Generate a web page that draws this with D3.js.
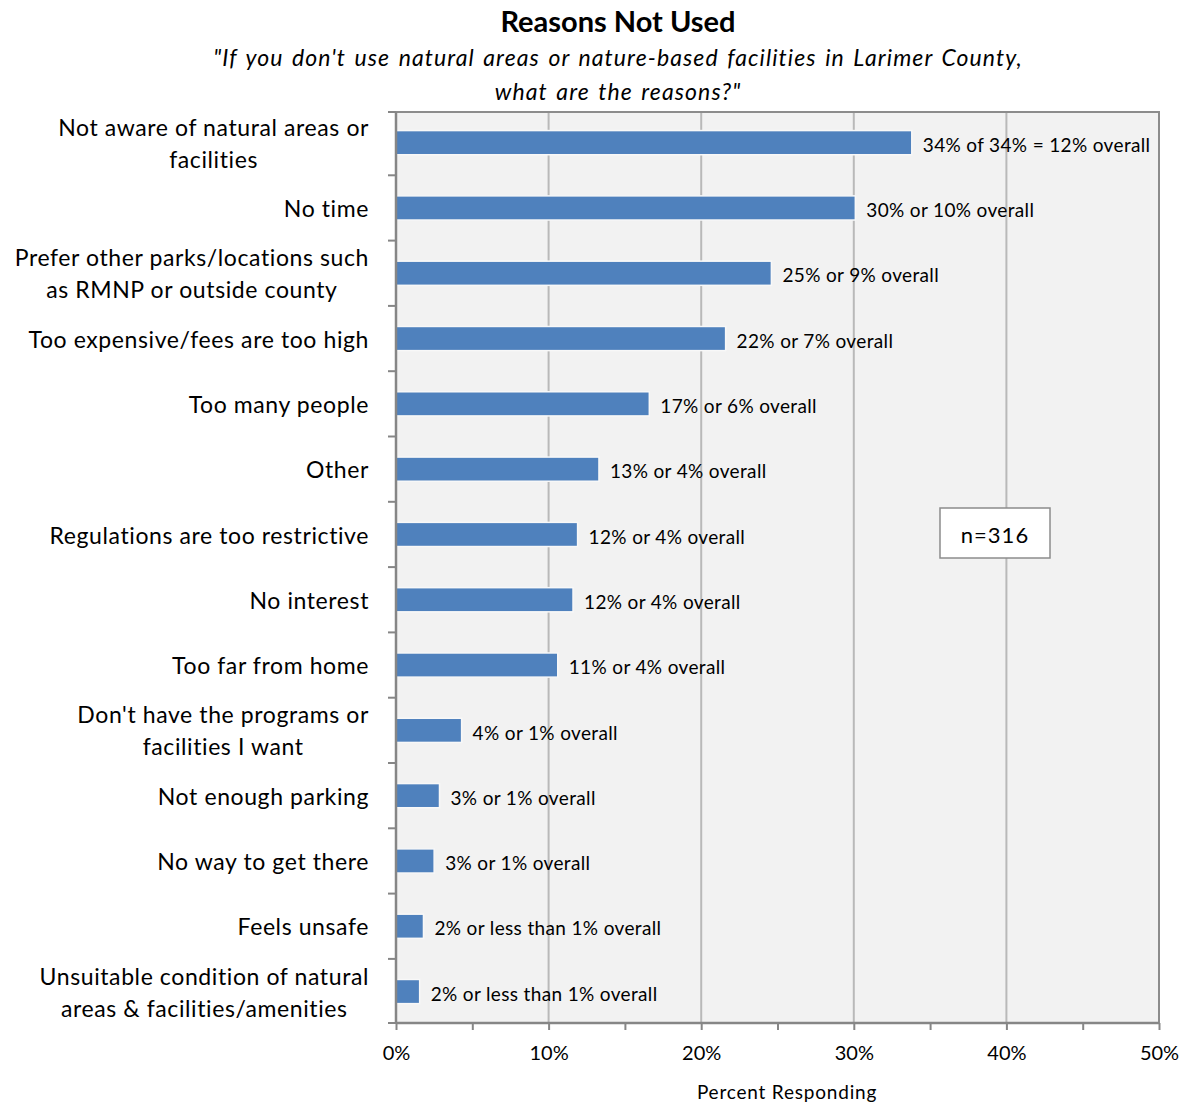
<!DOCTYPE html>
<html>
<head>
<meta charset="utf-8">
<script src="https://cdn.jsdelivr.net/npm/d3@7"></script>
<style>
  html, body { margin: 0; padding: 0; background: #fff; }
  svg { display: block; font-family: Lato, "Open Sans", sans-serif; }
</style>
</head>
<body>
<svg id="chart" width="1188" height="1103"></svg>
<script>
// Reasons for not using natural areas, percent of respondents
const categories = [
  ["Not aware of natural areas or", "facilities"],
  ["No time"],
  ["Prefer other parks/locations such", "as RMNP or outside county"],
  ["Too expensive/fees are too high"],
  ["Too many people"],
  ["Other"],
  ["Regulations are too restrictive"],
  ["No interest"],
  ["Too far from home"],
  ["Don't have the programs or", "facilities I want"],
  ["Not enough parking"],
  ["No way to get there"],
  ["Feels unsafe"],
  ["Unsuitable condition of natural", "areas & facilities/amenities"]
];
const values = [33.8, 30.1, 24.6, 21.6, 16.6, 13.3, 11.9, 11.6, 10.6, 4.3, 2.85, 2.5, 1.8, 1.55];
const overallText = [
  " of 34% = 12% overall", " or 10% overall", " or 9% overall", " or 7% overall",
  " or 6% overall", " or 4% overall", " or 4% overall", " or 4% overall",
  " or 4% overall", " or 1% overall", " or 1% overall", " or 1% overall",
  " or less than 1% overall", " or less than 1% overall"
];
const xTicks = [0, 10, 20, 30, 40, 50];
const sampleSize = "n=316";

const svg = d3.select("#chart");
const plot = { left: 396, right: 1159, top: 112, bottom: 1023 };

const x = d3.scaleLinear().domain([0, 50]).range([plot.left, plot.right]);
const y = d3.scaleBand().domain(d3.range(categories.length))
  .range([plot.top - 2, plot.bottom + 1.2]).paddingInner(0.63).paddingOuter(0.315);
const step = y.step();
const band0 = y(0) - y.paddingOuter() * step;

// Titles
svg.append("text").attr("x", 618).attr("y", 32).attr("text-anchor", "middle")
  .attr("font-size", 29).attr("font-weight", "bold").attr("fill", "#000")
  .text("Reasons Not Used");
svg.append("text").attr("x", 618).attr("y", 66).attr("text-anchor", "middle")
  .attr("font-size", 23).attr("font-style", "italic").attr("fill", "#000")
  .attr("letter-spacing", 1.1).attr("word-spacing", 2)
  .text("\"If you don't use natural areas or nature-based facilities in Larimer County,");
svg.append("text").attr("x", 618).attr("y", 100).attr("text-anchor", "middle")
  .attr("font-size", 23).attr("font-style", "italic").attr("fill", "#000")
  .attr("letter-spacing", 1.1).attr("word-spacing", 2)
  .text("what are the reasons?\"");

// Plot background
svg.append("rect").attr("x", plot.left).attr("y", plot.top)
  .attr("width", plot.right - plot.left).attr("height", plot.bottom - plot.top)
  .attr("fill", "#f2f2f2");

// Vertical gridlines
svg.append("g").selectAll("line").data(xTicks.slice(1, -1)).join("line")
  .attr("x1", d => x(d)).attr("x2", d => x(d))
  .attr("y1", plot.top).attr("y2", plot.bottom)
  .attr("stroke", "#b9b9b9").attr("stroke-width", 2);

// Plot border (top and right)
svg.append("path")
  .attr("d", `M${plot.left},${plot.top}H${plot.right}V${plot.bottom}`)
  .attr("fill", "none").attr("stroke", "#8c8c8c").attr("stroke-width", 2);

// Bars
svg.append("g").selectAll("rect").data(values).join("rect")
  .attr("x", x(0)).attr("y", (d, i) => y(i))
  .attr("width", d => x(d) - x(0)).attr("height", y.bandwidth())
  .attr("fill", "#4f81bd").attr("stroke", "#f8f8f8").attr("stroke-width", 1.5);

// Value labels
svg.append("g").selectAll("text").data(values).join("text")
  .attr("x", d => x(d) + 11).attr("y", (d, i) => y(i) + y.bandwidth() / 2 + 2.5)
  .attr("dy", "0.35em").attr("font-size", 19).attr("letter-spacing", 0.35).attr("fill", "#000")
  .text((d, i) => Math.round(d) + "%" + overallText[i]);

// X axis with minor ticks every 5%
const xAxis = d3.axisBottom(x).tickValues(d3.range(0, 51, 5))
  .tickFormat(d => (d % 10 === 0 ? d + "%" : "")).tickSize(7).tickPadding(16);
const gx = svg.append("g").attr("transform", `translate(0,${plot.bottom})`).call(xAxis);
gx.select(".domain").attr("stroke", "#868686").attr("stroke-width", 2.5)
  .attr("d", `M${plot.left},0H${plot.right}`);
gx.selectAll(".tick line").attr("stroke", "#868686").attr("stroke-width", 2);
gx.selectAll(".tick text").attr("font-size", 20).attr("fill", "#000")
  .attr("font-family", "Lato, 'Open Sans', sans-serif");

// Y axis line and category boundary ticks
const gy = svg.append("g");
gy.append("line").attr("x1", plot.left).attr("x2", plot.left)
  .attr("y1", plot.top).attr("y2", plot.bottom)
  .attr("stroke", "#868686").attr("stroke-width", 2.5);
const boundaries = [plot.top]
  .concat(d3.range(1, categories.length).map(k => band0 + k * step))
  .concat([plot.bottom]);
gy.selectAll("line.tk").data(boundaries).join("line")
  .attr("class", "tk")
  .attr("x1", plot.left - 8).attr("x2", plot.left)
  .attr("y1", d => d).attr("y2", d => d)
  .attr("stroke", "#868686").attr("stroke-width", 2);

// Category labels: block right-aligned, lines centered within block
const labelRight = 369;
const lineGap = 32;
categories.forEach((lines, i) => {
  const cy = y(i) + y.bandwidth() / 2 + 1;
  const g = svg.append("g");
  const texts = lines.map((ln, k) => g.append("text")
    .attr("font-size", 23).attr("letter-spacing", 0.6).attr("fill", "#000")
    .attr("y", cy + (k - (lines.length - 1) / 2) * lineGap)
    .attr("dy", "0.35em").attr("text-anchor", "middle").text(ln));
  const w = d3.max(texts, t => t.node().getComputedTextLength());
  texts.forEach(t => t.attr("x", labelRight - w / 2));
});

// Sample size box
svg.append("rect").attr("x", 940).attr("y", 508).attr("width", 110).attr("height", 50)
  .attr("fill", "#fff").attr("stroke", "#8c8c8c").attr("stroke-width", 1.5);
svg.append("text").attr("x", 995).attr("y", 535).attr("dy", "0.35em")
  .attr("text-anchor", "middle").attr("font-size", 22).attr("letter-spacing", 1).attr("fill", "#000")
  .text(sampleSize);

// Axis title
svg.append("text").attr("x", 787).attr("y", 1099).attr("text-anchor", "middle")
  .attr("font-size", 19).attr("letter-spacing", 0.8).attr("fill", "#000").text("Percent Responding");
</script>
</body>
</html>
